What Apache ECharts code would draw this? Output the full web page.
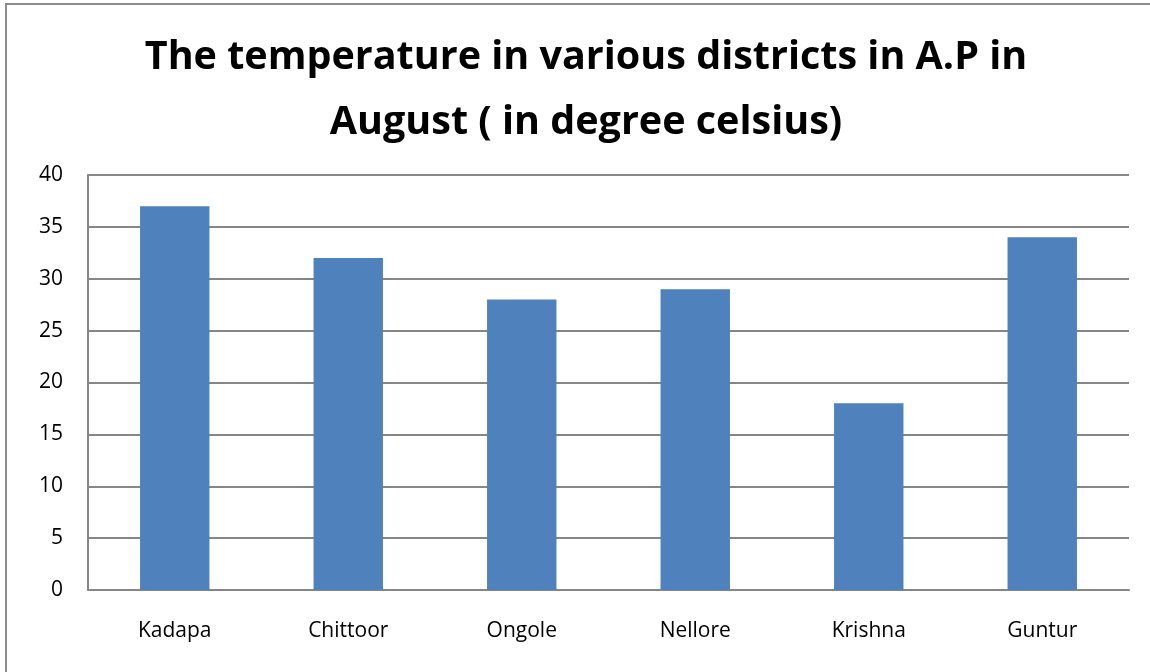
<!DOCTYPE html>
<html lang="en">
<head>
    <meta charset="UTF-8">
    <title>temperature chart</title>
    <style>
      html, body { margin: 0; padding: 0; background: #fff; }
    </style>
</head>
<body>
    <div id="img" style="height: 672px; width: 1150px;"></div>

    <script src="https://cdn.jsdelivr.net/npm/echarts@6/dist/echarts.min.js"></script>
    <script type="text/javascript">
      var districts = ['Kadapa', 'Chittoor', 'Ongole', 'Nellore', 'Krishna', 'Guntur'];
      var temps = [37, 32, 28, 29, 18, 34];

      var myChart = echarts.init(document.getElementById('img'));
      var option = {
        animation: false,
        backgroundColor: '#fff',
        title: {
          text: 'The temperature in various districts in A.P in\nAugust ( in degree celsius)',
          left: 581,
          top: 20,
          textAlign: 'center',
          textStyle: {
            fontFamily: 'Open Sans',
            fontWeight: 'bold',
            fontSize: 39.5,
            lineHeight: 65,
            color: '#000'
          }
        },
        graphic: [{
          type: 'rect',
          shape: { x: 6, y: 4, width: 1200, height: 720 },
          style: { fill: 'none', stroke: '#8c8c8c', lineWidth: 2 },
          silent: true
        }],
        grid: { left: 88, right: 21, top: 175, bottom: 82 },
        xAxis: {
          type: 'category',
          data: districts,
          axisTick: { show: false },
          axisLine: { lineStyle: { color: '#868686', width: 2 } },
          axisLabel: { color: '#000', fontSize: 21, fontFamily: 'Open Sans', margin: 31 }
        },
        yAxis: {
          type: 'value',
          min: 0,
          max: 40,
          interval: 5,
          axisLine: { show: true, lineStyle: { color: '#868686', width: 2 } },
          axisTick: { show: false },
          splitLine: { lineStyle: { color: '#868686', width: 2 } },
          axisLabel: { color: '#000', fontSize: 21, fontFamily: 'Open Sans', margin: 25 }
        },
        series: [{
          type: 'bar',
          data: temps,
          barWidth: '40%',
          itemStyle: { color: '#4F81BD' }
        }]
      };
      myChart.setOption(option);
    </script>
</body>
</html>
